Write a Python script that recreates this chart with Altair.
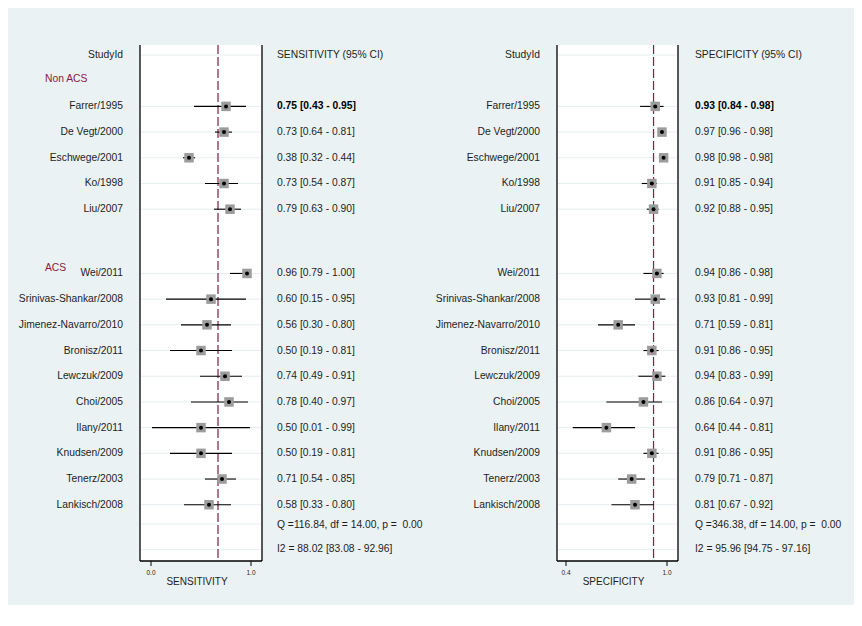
import altair as alt
import pandas as pd

# ---------------- data ----------------
groups = ["Non ACS", "ACS"]
studies = ["Farrer/1995", "De Vegt/2000", "Eschwege/2001", "Ko/1998", "Liu/2007",
           "Wei/2011", "Srinivas-Shankar/2008", "Jimenez-Navarro/2010", "Bronisz/2011",
           "Lewczuk/2009", "Choi/2005", "Ilany/2011", "Knudsen/2009", "Tenerz/2003",
           "Lankisch/2008"]
study_group = ["Non ACS"] * 5 + ["ACS"] * 10

sens = [0.75, 0.73, 0.38, 0.73, 0.79, 0.96, 0.60, 0.56, 0.50, 0.74, 0.78, 0.50, 0.50, 0.71, 0.58]
sens_lo = [0.43, 0.64, 0.32, 0.54, 0.63, 0.79, 0.15, 0.30, 0.19, 0.49, 0.40, 0.01, 0.19, 0.54, 0.33]
sens_hi = [0.95, 0.81, 0.44, 0.87, 0.90, 1.00, 0.95, 0.80, 0.81, 0.91, 0.97, 0.99, 0.81, 0.85, 0.80]

spec = [0.93, 0.97, 0.98, 0.91, 0.92, 0.94, 0.93, 0.71, 0.91, 0.94, 0.86, 0.64, 0.91, 0.79, 0.81]
spec_lo = [0.84, 0.96, 0.98, 0.85, 0.88, 0.86, 0.81, 0.59, 0.86, 0.83, 0.64, 0.44, 0.86, 0.71, 0.67]
spec_hi = [0.98, 0.98, 0.98, 0.94, 0.95, 0.98, 0.99, 0.81, 0.95, 0.99, 0.97, 0.81, 0.95, 0.87, 0.92]

pooled_sens = 0.67
pooled_spec = 0.92
sens_q, sens_df, sens_p = 116.84, 14.00, 0.00
spec_q, spec_df, spec_p = 346.38, 14.00, 0.00
sens_i2 = [88.02, 83.08, 92.96]
spec_i2 = [95.96, 94.75, 97.16]

sens_ticks = [0.0, 1.0]
spec_ticks = [0.4, 1.0]

# ---------------- row layout (row units) ----------------
group_label_row = {"Non ACS": 0.92, "ACS": 8.28}
group_first_row = {"Non ACS": 2.0, "ACS": 8.5}
rows = []
counter = {g: 0 for g in groups}
for g in study_group:
    rows.append(group_first_row[g] + counter[g])
    counter[g] += 1
q_row = rows[-1] + 0.75
i2_row = rows[-1] + 1.75

df = pd.DataFrame({
    "study": studies, "group": study_group, "row": rows,
    "sens": sens, "sens_lo": sens_lo, "sens_hi": sens_hi,
    "spec": spec, "spec_lo": spec_lo, "spec_hi": spec_hi,
})
fmt = lambda v, lo, hi: f"{v:.2f} [{lo:.2f} - {hi:.2f}]"
df["sens_txt"] = [fmt(a, b, c) for a, b, c in zip(sens, sens_lo, sens_hi)]
df["spec_txt"] = [fmt(a, b, c) for a, b, c in zip(spec, spec_lo, spec_hi)]
df["first"] = [i == 0 for i in range(len(df))]

NB = "\u00a0"
grid_rows = pd.DataFrame({"row": [0.0] + rows + [q_row, i2_row]})
group_df = pd.DataFrame({"group": groups, "row": [group_label_row[g] for g in groups]})
stats_df = pd.DataFrame({
    "row": [q_row + 0.03, i2_row - 0.03],
    "sens_txt": [f"Q ={sens_q:.2f}, df = {sens_df:.2f}, p ={NB} {sens_p:.2f}",
                 f"I2 = {sens_i2[0]:.2f} [{sens_i2[1]:.2f} - {sens_i2[2]:.2f}]"],
    "spec_txt": [f"Q ={spec_q:.2f}, df = {spec_df:.2f}, p ={NB} {spec_p:.2f}",
                 f"I2 = {spec_i2[0]:.2f} [{spec_i2[1]:.2f} - {spec_i2[2]:.2f}]"],
})
header_df = pd.DataFrame({"row": [0.0]})
one = pd.DataFrame({"k": [0]})

# ---------------- styling ----------------
FONT = "Liberation Sans"
FS = 10.3
BG = "#eaf2f3"
GRID = "#e6eef0"
MAROON = "#8b1a45"
BOX = "#9c9c9c"
TXT = "#1e1e1e"

ys = alt.Scale(domain=[0, 19.25], range=[47, 541.7], nice=False, zero=False)
Y = alt.Y("row:Q", scale=ys, axis=None)

PLOT_TOP, PLOT_BOT = 37, 553


def panel(val, lo, hi, txt, x_dom, x_rng, plot_l, plot_r, lab_x, txt_x,
          pooled, ticks, axis_title, header, show_groups):
    xs = alt.Scale(domain=x_dom, range=x_rng, nice=False, zero=False)
    layers = []
    layers.append(alt.Chart(one).mark_rect(fill="white").encode(
        x=alt.value(plot_l), x2=alt.value(plot_r),
        y=alt.value(PLOT_TOP), y2=alt.value(PLOT_BOT)))
    layers.append(alt.Chart(grid_rows).mark_rule(color=GRID, strokeWidth=1).encode(
        x=alt.value(plot_l + 1), x2=alt.value(plot_r - 1), y=Y))
    layers.append(alt.Chart(one).mark_rule(color=MAROON, strokeWidth=1.2,
                                           strokeDash=[9, 3]).encode(
        x=alt.X("p:Q", scale=xs, axis=None),
        y=alt.value(PLOT_TOP), y2=alt.value(PLOT_BOT)).transform_calculate(p=str(pooled)))
    layers.append(alt.Chart(df).mark_rule(color="black", strokeWidth=1.1).encode(
        x=alt.X(f"{lo}:Q", scale=xs, axis=None), x2=f"{hi}:Q", y=Y))
    layers.append(alt.Chart(df).mark_square(size=90, color=BOX, opacity=1).encode(
        x=alt.X(f"{val}:Q", scale=xs, axis=None), y=Y))
    layers.append(alt.Chart(df).mark_circle(size=16, color="black", opacity=1).encode(
        x=alt.X(f"{val}:Q", scale=xs, axis=None), y=Y))
    # frame: left/right borders and bottom axis
    for xv in (plot_l, plot_r):
        layers.append(alt.Chart(one).mark_rule(color="black", strokeWidth=1.3).encode(
            x=alt.value(xv), y=alt.value(PLOT_TOP), y2=alt.value(PLOT_BOT)))
    layers.append(alt.Chart(one).mark_rule(color="black", strokeWidth=1.3).encode(
        x=alt.value(plot_l), x2=alt.value(plot_r), y=alt.value(PLOT_BOT)))
    tick_df = pd.DataFrame({"t": ticks, "lab": [f"{t:.1f}" for t in ticks]})
    layers.append(alt.Chart(tick_df).mark_rule(color="black", strokeWidth=1).encode(
        x=alt.X("t:Q", scale=xs, axis=None),
        y=alt.value(PLOT_BOT), y2=alt.value(PLOT_BOT + 5)))
    layers.append(alt.Chart(tick_df).mark_text(font=FONT, fontSize=6.5, color=TXT,
                                               baseline="middle").encode(
        x=alt.X("t:Q", scale=xs, axis=None), y=alt.value(PLOT_BOT + 12), text="lab:N"))
    layers.append(alt.Chart(one).mark_text(font=FONT, fontSize=10, color=TXT,
                                           baseline="middle", text=axis_title).encode(
        x=alt.value((plot_l + plot_r) / 2 - 4), y=alt.value(PLOT_BOT + 21)))
    # header
    layers.append(alt.Chart(header_df).mark_text(font=FONT, fontSize=FS, color=TXT,
                                                 align="right", baseline="middle",
                                                 text="StudyId").encode(
        x=alt.value(lab_x), y=Y))
    layers.append(alt.Chart(header_df).mark_text(font=FONT, fontSize=FS, color=TXT,
                                                 align="left", baseline="middle",
                                                 text=header).encode(
        x=alt.value(txt_x), y=Y))
    # study labels
    layers.append(alt.Chart(df).mark_text(font=FONT, fontSize=FS, color=TXT,
                                          align="right", baseline="middle").encode(
        x=alt.value(lab_x), y=Y, text="study:N"))
    # estimate texts
    layers.append(alt.Chart(df).transform_filter("datum.first").mark_text(
        font=FONT, fontSize=FS, color="black", fontWeight="bold", align="left",
        baseline="middle").encode(x=alt.value(txt_x), y=Y, text=f"{txt}:N"))
    layers.append(alt.Chart(df).transform_filter("!datum.first").mark_text(
        font=FONT, fontSize=FS, color=TXT, align="left",
        baseline="middle").encode(x=alt.value(txt_x), y=Y, text=f"{txt}:N"))
    layers.append(alt.Chart(stats_df).mark_text(font=FONT, fontSize=FS, color=TXT,
                                                align="left", baseline="middle").encode(
        x=alt.value(txt_x), y=Y, text=f"{txt}:N"))
    if show_groups:
        layers.append(alt.Chart(group_df).mark_text(font=FONT, fontSize=FS, color=MAROON,
                                                    align="left", baseline="middle").encode(
            x=alt.value(37), y=Y, text="group:N"))
    return layers


left = panel("sens", "sens_lo", "sens_hi", "sens_txt", [0, 1], [143, 243], 132, 254,
             115, 269, pooled_sens, sens_ticks, "SENSITIVITY", "SENSITIVITY (95% CI)", True)
right = panel("spec", "spec_lo", "spec_hi", "spec_txt", [0.4, 1.0], [558, 659], 549, 670,
              532, 687, pooled_spec, spec_ticks, "SPECIFICITY", "SPECIFICITY (95% CI)", False)

chart = alt.layer(*(left + right)).resolve_scale(x="independent").properties(
    width=846, height=597, padding=0,
    autosize=alt.AutoSizeParams(type="none"),
    background=BG,
).configure_view(stroke=None)

chart.save("out.html", embed_options={"renderer": "svg", "actions": False})
